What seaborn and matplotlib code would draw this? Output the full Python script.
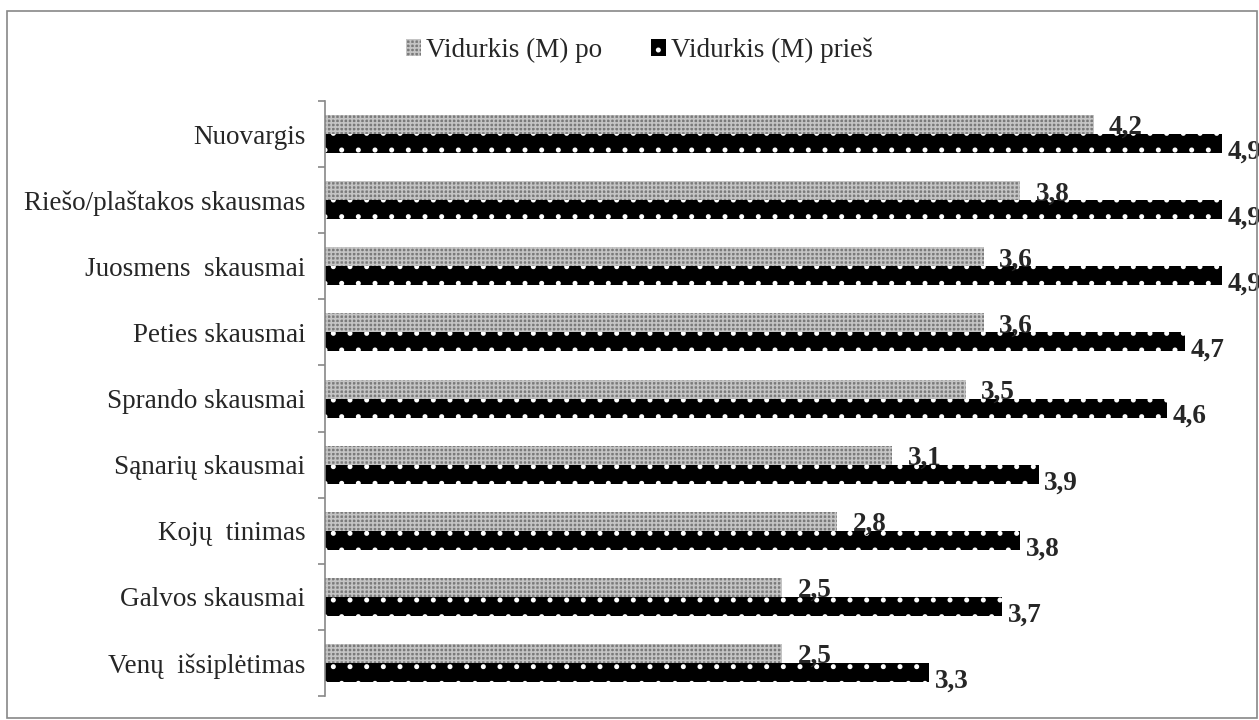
import matplotlib
matplotlib.use("Agg")
import matplotlib.pyplot as plt
import seaborn as sns
import pandas as pd
from matplotlib.patches import Patch

categories = ["Nuovargis", "Riešo/plaštakos skausmas", "Juosmens  skausmai",
              "Peties skausmai", "Sprando skausmai", "Sąnarių skausmai",
              "Kojų  tinimas", "Galvos skausmai", "Venų  išsiplėtimas"]
po = [4.2, 3.8, 3.6, 3.6, 3.5, 3.1, 2.8, 2.5, 2.5]
pries = [4.9, 4.9, 4.9, 4.7, 4.6, 3.9, 3.8, 3.7, 3.3]
series = ["Vidurkis (M) po", "Vidurkis (M) prieš"]

df = pd.DataFrame({
    "cat": categories * 2,
    "val": po + pries,
    "ser": [series[0]] * len(categories) + [series[1]] * len(categories),
})

sns.set_style("white")
plt.rcParams['font.family'] = ['Liberation Serif', 'DejaVu Serif']
plt.rcParams['hatch.linewidth'] = 1.2

fig = plt.figure(figsize=(12.59, 7.2), dpi=100)
ax = fig.add_axes([0.258, 0.0333, 0.727, 0.8264])

sns.barplot(data=df, y="cat", x="val", hue="ser", order=categories,
            hue_order=series, orient="h", width=0.575, ax=ax,
            palette=["#9a9a9a", "#000000"], legend=False, saturation=1)

PO_FACE, PO_HATCH, PO_PAT = "#7a7a7a", "#c4c4c4", "++++"
PR_FACE, PR_HATCH, PR_PAT = "#000000", "#ffffff", "."

n = len(categories)
for i, p in enumerate(ax.patches[:2 * n]):
    if i < n:
        p.set_facecolor(PO_FACE)
        p.set_edgecolor(PO_HATCH)
        p.set_hatch(PO_PAT)
    else:
        p.set_facecolor(PR_FACE)
        p.set_edgecolor(PR_HATCH)
        p.set_hatch(PR_PAT)
    p.set_linewidth(0)

FS = 19.5
for i in range(n):
    p1 = ax.patches[i]
    p2 = ax.patches[n + i]
    y1 = p1.get_y() + p1.get_height() / 2
    y2 = p2.get_y() + p2.get_height() / 2
    ax.annotate(f"{po[i]:.1f}".replace(".", ","), (po[i], y1), xytext=(11, 0),
                textcoords="offset points", ha="left", va="center_baseline",
                fontsize=FS, fontweight="bold")
    ax.annotate(f"{pries[i]:.1f}".replace(".", ","), (pries[i], y2), xytext=(4, -4),
                textcoords="offset points", ha="left", va="center_baseline",
                fontsize=FS, fontweight="bold")

ax.set_xlim(0, 5)
ax.set_ylim(n - 0.5, -0.5)
ax.set_xlabel("")
ax.set_ylabel("")
ax.set_xticks([])
ax.set_yticks(range(n))
ax.set_yticklabels(categories, fontsize=FS)
ax.set_yticks([k - 0.5 for k in range(n + 1)], minor=True)
ax.tick_params(axis="y", which="major", length=0, pad=14)
ax.tick_params(axis="y", which="minor", length=5, color="#888888", width=1.2, left=True)
for s in ["top", "right", "bottom"]:
    ax.spines[s].set_visible(False)
ax.spines["left"].set_color("#888888")
ax.spines["left"].set_linewidth(1.2)

handles = [Patch(facecolor=PO_FACE, edgecolor=PO_HATCH, hatch=PO_PAT, linewidth=0),
           Patch(facecolor=PR_FACE, edgecolor=PR_HATCH, hatch=PR_PAT, linewidth=0)]
fig.legend(handles, series, loc="center", bbox_to_anchor=(0.508, 0.93), ncol=2,
           frameon=False, fontsize=FS, handlelength=0.55, handleheight=0.55,
           handletextpad=0.2, columnspacing=1.8)

x0, y0 = 7 / 1259, 1 - 718 / 720
x1, y1 = 1257 / 1259, 1 - 11 / 720
fig.patches.append(plt.Rectangle((x0, y0), x1 - x0, y1 - y0, transform=fig.transFigure,
                                 fill=False, edgecolor="#888888", linewidth=1.2))

fig.savefig("out.png", dpi=100)
